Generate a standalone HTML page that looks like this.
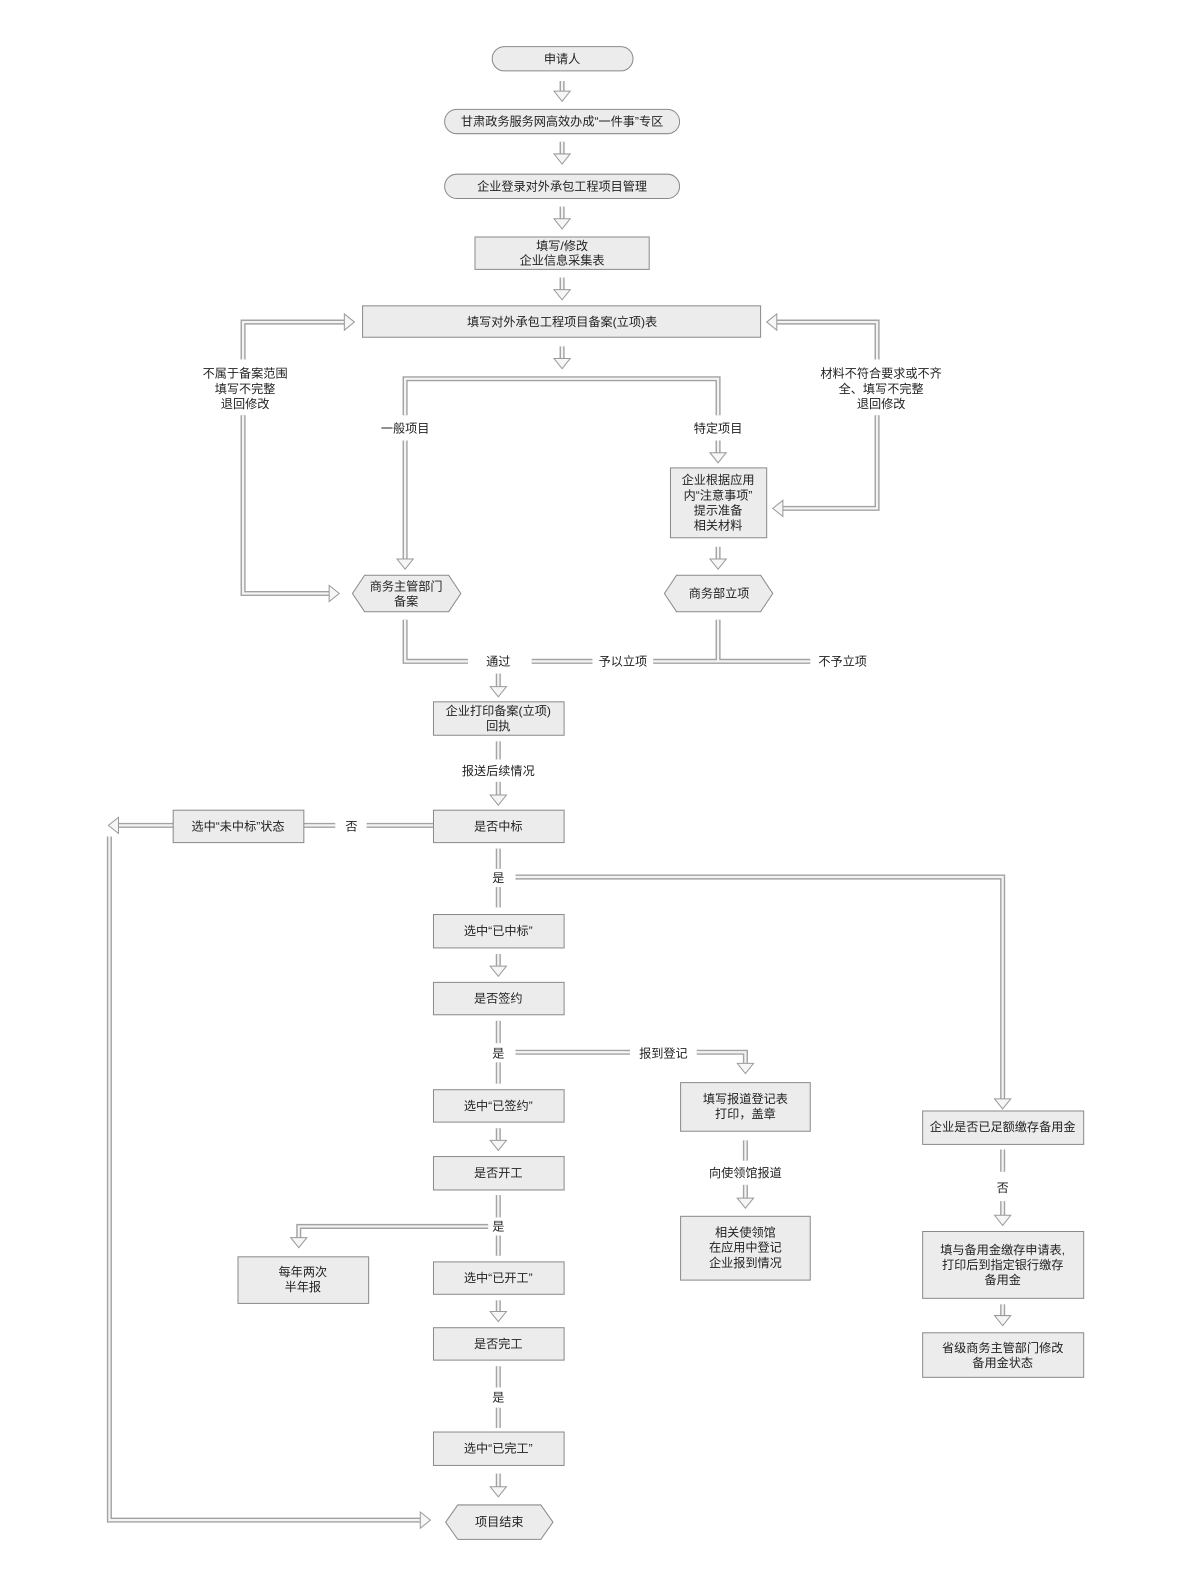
<!DOCTYPE html>
<html><head><meta charset="utf-8">
<style>
html,body{margin:0;padding:0;background:#fff;overflow:hidden;width:1188px;height:1589px;}
svg{display:block;position:absolute;left:0;top:0;}
text{font-family:"Liberation Sans","Noto Sans CJK SC",sans-serif;font-size:12px;fill:#222;text-anchor:middle;}
.b{fill:#ececec;stroke:#8a8a8a;stroke-width:1;}
.t{fill:#f6f6f6;stroke:#9a9a9a;stroke-width:1;}
</style></head>
<body>
<svg width="1188" height="1589" viewBox="0 0 1173 1569" preserveAspectRatio="none" xmlns="http://www.w3.org/2000/svg">
<defs>
<g id="L" fill="none">
<path d="M555,80V91 M555,140V153 M555,204V217 M555,274V287 M555,342V355 M709,435V448 M709,540V553 M400,435V553 M492,665V679 M492,772V786 M492,942V955 M492,1114V1127 M492,1284V1296 M492,1455V1469 M990,1186V1201 M990,1288V1300 M736,1170V1184"/>
<path d="M240,410V586H326"/>
<path d="M240,355V318H341"/>
<path d="M866,355V318H766"/>
<path d="M866,410V502H772"/>
<path d="M171,815H116"/>
<path d="M108,826V1501H416"/>
<path d="M509,866H990V1086"/>
<path d="M688,1039H736V1051"/>
<path d="M482,1211H295V1223"/>
<path d="M400,410V374H709V410"/>
<path d="M400,612V653H462 M525,653H585 M645,653H800 M709,612V653"/>
<path d="M428,815H362 M331,815H300"/>
<path d="M509,1039H622"/>
<path d="M492,732V750 M492,838V858 M492,876V896 M492,1008V1030 M492,1049V1070 M492,1180V1202 M492,1220V1240 M492,1349V1370 M492,1390V1410 M990,1135V1157 M736,1126V1146"/>
</g>
</defs>
<use href="#L" stroke="#a3a3a3" stroke-width="5"/>
<use href="#L" stroke="#f4f4f4" stroke-width="2.2"/>

<g class="t">
<polygon points="547,90 563,90 555,100"/>
<polygon points="547,152 563,152 555,162"/>
<polygon points="547,216 563,216 555,226"/>
<polygon points="547,286 563,286 555,296"/>
<polygon points="547,354 563,354 555,364"/>
<polygon points="701,447 717,447 709,457"/>
<polygon points="701,552 717,552 709,562"/>
<polygon points="392,552 408,552 400,562"/>
<polygon points="484,678 500,678 492,688"/>
<polygon points="484,785 500,785 492,795"/>
<polygon points="484,954 500,954 492,964"/>
<polygon points="484,1126 500,1126 492,1136"/>
<polygon points="484,1295 500,1295 492,1305"/>
<polygon points="484,1468 500,1468 492,1478"/>
<polygon points="982,1200 998,1200 990,1210"/>
<polygon points="982,1299 998,1299 990,1309"/>
<polygon points="728,1183 744,1183 736,1193"/>
<polygon points="982,1085 998,1085 990,1095"/>
<polygon points="728,1050 744,1050 736,1060"/>
<polygon points="287,1222 303,1222 295,1232"/>
<polygon points="325,578 325,594 335,586"/>
<polygon points="340,310 340,326 350,318"/>
<polygon points="415,1493 415,1509 425,1501"/>
<polygon points="767,310 767,326 757,318"/>
<polygon points="773,494 773,510 763,502"/>
<polygon points="117,807 117,823 107,815"/>
</g>

<rect class="b" x="486" y="46" width="139" height="24" rx="12"/>
<text x="555" y="62">申请人</text>
<rect class="b" x="439" y="108" width="232" height="24" rx="12"/>
<text x="555" y="124">甘肃政务服务网高效办成“一件事”专区</text>
<rect class="b" x="439" y="172" width="232" height="24" rx="12"/>
<text x="555" y="188">企业登录对外承包工程项目管理</text>
<rect class="b" x="469" y="234" width="172" height="32"/>
<text x="555" y="247">填写/修改</text><text x="555" y="261">企业信息采集表</text>
<rect class="b" x="358" y="302" width="393" height="31"/>
<text x="555" y="322">填写对外承包工程项目备案(立项)表</text>

<text x="242" y="373">不属于备案范围</text><text x="242" y="388">填写不完整</text><text x="242" y="403">退回修改</text>
<text x="870" y="373">材料不符合要求或不齐</text><text x="870" y="388">全、填写不完整</text><text x="870" y="403">退回修改</text>
<text x="400" y="427">一般项目</text>
<text x="709" y="427">特定项目</text>

<rect class="b" x="662" y="462" width="95" height="69"/>
<text x="709" y="478">企业根据应用</text><text x="709" y="493">内“注意事项”</text><text x="709" y="508">提示准备</text><text x="709" y="523">相关材料</text>

<polygon class="b" points="360,568 443,568 455,586 443,604 360,604 348,586"/>
<text x="401" y="583">商务主管部门</text><text x="401" y="598">备案</text>
<polygon class="b" points="668,568 751,568 763,586 751,604 668,604 656,586"/>
<text x="710" y="590">商务部立项</text>

<text x="492" y="657">通过</text>
<text x="615" y="657">予以立项</text>
<text x="832" y="657">不予立项</text>

<rect class="b" x="428" y="693" width="129" height="33"/>
<text x="492" y="706">企业打印备案(立项)</text><text x="492" y="721">回执</text>
<text x="492" y="765">报送后续情况</text>

<rect class="b" x="428" y="800" width="129" height="32"/>
<text x="492" y="820">是否中标</text>
<text x="347" y="820">否</text>
<rect class="b" x="171" y="800" width="129" height="32"/>
<text x="235" y="820">选中“未中标”状态</text>

<text x="492" y="871">是</text>
<rect class="b" x="428" y="903" width="129" height="33"/>
<text x="492" y="923">选中“已中标”</text>
<rect class="b" x="428" y="970" width="129" height="32"/>
<text x="492" y="990">是否签约</text>
<text x="492" y="1044">是</text>
<text x="655" y="1044">报到登记</text>

<rect class="b" x="672" y="1069" width="128" height="48"/>
<text x="736" y="1089">填写报道登记表</text><text x="736" y="1104">打印，盖章</text>
<text x="736" y="1162">向使领馆报道</text>
<rect class="b" x="672" y="1201" width="128" height="63"/>
<text x="736" y="1221">相关使领馆</text><text x="736" y="1236">在应用中登记</text><text x="736" y="1251">企业报到情况</text>

<rect class="b" x="911" y="1097" width="159" height="33"/>
<text x="990" y="1117">企业是否已足额缴存备用金</text>
<text x="990" y="1177">否</text>
<rect class="b" x="911" y="1216" width="159" height="66"/>
<text x="990" y="1238">填与备用金缴存申请表,</text><text x="990" y="1253">打印后到指定银行缴存</text><text x="990" y="1268">备用金</text>
<rect class="b" x="911" y="1316" width="159" height="44"/>
<text x="990" y="1335">省级商务主管部门修改</text><text x="990" y="1350">备用金状态</text>

<rect class="b" x="428" y="1076" width="129" height="32"/>
<text x="492" y="1096">选中“已签约”</text>
<rect class="b" x="428" y="1142" width="129" height="33"/>
<text x="492" y="1162">是否开工</text>
<text x="492" y="1215">是</text>
<rect class="b" x="235" y="1241" width="129" height="46"/>
<text x="299" y="1260">每年两次</text><text x="299" y="1275">半年报</text>
<rect class="b" x="428" y="1246" width="129" height="32"/>
<text x="492" y="1266">选中“已开工”</text>
<rect class="b" x="428" y="1311" width="129" height="32"/>
<text x="492" y="1331">是否完工</text>
<text x="492" y="1384">是</text>
<rect class="b" x="428" y="1414" width="129" height="33"/>
<text x="492" y="1434">选中“已完工”</text>
<polygon class="b" points="452,1486 534,1486 546,1503 534,1520 452,1520 440,1503"/>
<text x="493" y="1507">项目结束</text>
</svg>
</body></html>
